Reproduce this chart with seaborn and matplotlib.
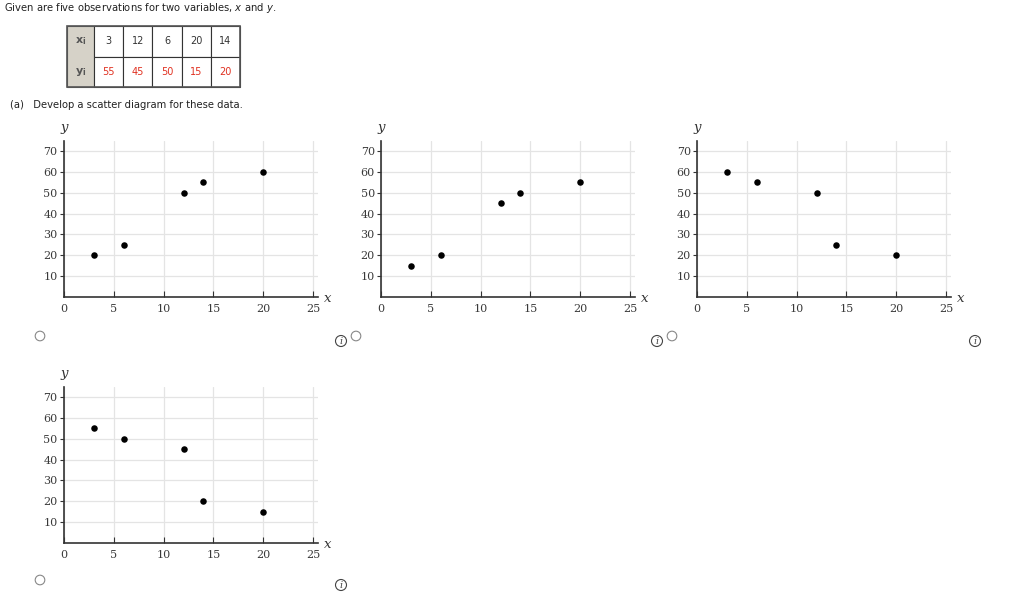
import matplotlib
matplotlib.use("Agg")
import matplotlib.pyplot as plt
import seaborn as sns
import pandas as pd
from matplotlib.patches import Rectangle, Circle

# Observations from the table
x_obs = [3, 12, 6, 20, 14]
y_obs = [55, 45, 50, 15, 20]

# Points shown in the four candidate scatter diagrams
opt_x = [3, 6, 12, 14, 20]
opt_a_y = [20, 25, 50, 55, 60]
opt_b_y = [15, 20, 45, 50, 55]
opt_c_y = [60, 55, 50, 25, 20]
opt_d_y = [55, 50, 45, 20, 15]

x_ticks = [0, 5, 10, 15, 20, 25]
y_ticks = [10, 20, 30, 40, 50, 60, 70]

sns.set_theme(style="white")
plt.rcParams['font.family'] = ['DejaVu Sans']

W, H = 1024, 609
fig = plt.figure(figsize=(W / 100, H / 100), dpi=100)

# overlay in pixel coordinates for page text, table and icons
ov = fig.add_axes([0, 0, 1, 1])
ov.set_xlim(0, W)
ov.set_ylim(H, 0)
ov.axis('off')

ov.text(4, 8, "Given are five observations for two variables, $x$ and $y$.",
        fontsize=7.2, va='center', ha='left', color='#222222')

# the data table
header_w, cell_w = 27, 29.2
tx0, ty0, row_h = 67, 26, 30.5
ov.add_patch(Rectangle((tx0, ty0), header_w, 2 * row_h, facecolor='#d6d2c8',
                       edgecolor='#555555', lw=0.8))
ov.text(tx0 + header_w / 2, ty0 + row_h / 2, "$\\mathbf{x_i}$", ha='center', va='center',
        fontsize=8, color='#555555')
ov.text(tx0 + header_w / 2, ty0 + 1.5 * row_h, "$\\mathbf{y_i}$", ha='center', va='center',
        fontsize=8, color='#555555')
for i, (xv, yv) in enumerate(zip(x_obs, y_obs)):
    cx = tx0 + header_w + i * cell_w
    ov.add_patch(Rectangle((cx, ty0), cell_w, row_h, facecolor='white',
                           edgecolor='#333333', lw=0.8))
    ov.add_patch(Rectangle((cx, ty0 + row_h), cell_w, row_h, facecolor='white',
                           edgecolor='#333333', lw=0.8))
    ov.text(cx + cell_w / 2, ty0 + row_h / 2, str(xv), ha='center', va='center',
            fontsize=7, color='#333333')
    ov.text(cx + cell_w / 2, ty0 + 1.5 * row_h, str(yv), ha='center', va='center',
            fontsize=7, color='#e03020')
ov.add_patch(Rectangle((tx0, ty0), header_w + 5 * cell_w, 2 * row_h, fill=False,
                       edgecolor='#555555', lw=1.2))

ov.text(10, 105, "(a)   Develop a scatter diagram for these data.", fontsize=7.2,
        va='center', ha='left', color='#222222')

# axes placement (pixels): left edge, bottom edge
panels = [
    (64, 297, opt_a_y),
    (381, 297, opt_b_y),
    (697, 297, opt_c_y),
    (64, 543, opt_d_y),
]
ax_w, ax_h = 254, 156
serif = 'DejaVu Serif'

for left, bottom, ys in panels:
    ax = fig.add_axes([left / W, (H - bottom) / H, ax_w / W, ax_h / H])
    df = pd.DataFrame({'x': opt_x, 'y': ys})
    sns.scatterplot(data=df, x='x', y='y', ax=ax, color='black', s=22,
                    edgecolor='black', linewidth=0, zorder=3)
    ax.set_xlim(0, 25.5)
    ax.set_ylim(0, 74.8)
    ax.set_xticks(x_ticks)
    ax.set_yticks(y_ticks)
    ax.grid(True, color='#e4e4e4', lw=0.9)
    ax.set_axisbelow(True)
    for s in ['top', 'right']:
        ax.spines[s].set_visible(False)
    for s in ['left', 'bottom']:
        ax.spines[s].set_color('#333333')
        ax.spines[s].set_linewidth(1.2)
    ax.tick_params(axis='x', direction='in', length=4, width=0.8, color='#333333',
                   labelsize=8, labelcolor='#3a3a3a', pad=5, bottom=True)
    ax.tick_params(axis='y', direction='out', length=3, width=0.8, color='#333333',
                   labelsize=8, labelcolor='#3a3a3a', pad=1.5, left=True)
    for lab in ax.get_xticklabels() + ax.get_yticklabels():
        lab.set_fontfamily(serif)
    ax.set_xlabel('')
    ax.set_ylabel('')
    # axis names
    ov.text(left + 264, bottom + 2, "x", fontsize=9.5, family=serif, style='italic',
            ha='center', va='center', color='#333333')
    ov.text(left, bottom - 169, "y", fontsize=9.5, family=serif, style='italic',
            ha='center', va='center', color='#333333')

# radio buttons and info icons
radios = [(40, 336), (356, 336), (672, 336), (40, 580)]
infos = [(341, 341), (657, 341), (975, 341), (341, 585)]
for rx, ry in radios:
    ov.add_patch(Circle((rx, ry), 4.8, fill=False, edgecolor='#888888', lw=0.8))
for ix, iy in infos:
    ov.add_patch(Circle((ix, iy), 5.5, fill=False, edgecolor='#444444', lw=0.8))
    ov.text(ix, iy + 0.5, "i", fontsize=7, family=serif, style='italic',
            ha='center', va='center', color='#444444')

fig.savefig("out.png", dpi=100)
